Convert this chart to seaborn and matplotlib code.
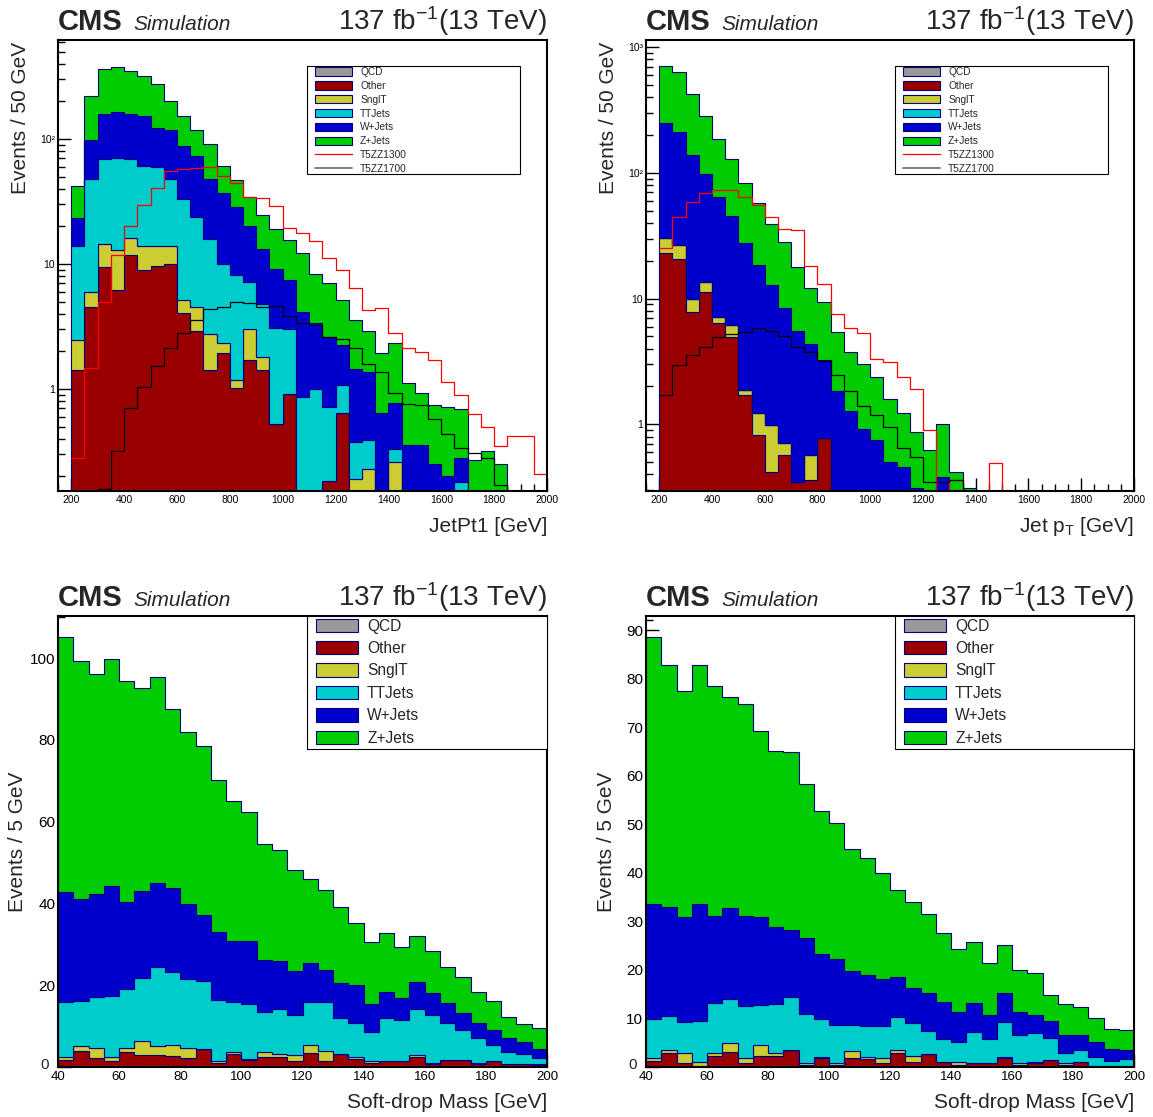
import numpy as np
import pandas as pd
import matplotlib
matplotlib.use("Agg")
import matplotlib.pyplot as plt
import seaborn as sns
from matplotlib.patches import Patch, Rectangle
from matplotlib.lines import Line2D
from matplotlib.ticker import MultipleLocator, LogLocator, NullFormatter, FuncFormatter

sns.set_theme(style="ticks")
plt.rcParams["font.family"] = ["Liberation Sans", "DejaVu Sans"]
plt.rcParams["mathtext.fontset"] = "custom"
plt.rcParams["mathtext.rm"] = "Liberation Sans"
plt.rcParams["mathtext.it"] = "Liberation Sans:italic"
plt.rcParams["mathtext.bf"] = "Liberation Sans:bold"

W, H = 1153, 1117

# ---------------- data ----------------
stack_order = ["Z+Jets", "W+Jets", "TTJets", "SnglT", "Other"]   # first = top of stack
legend_order = ["QCD", "Other", "SnglT", "TTJets", "W+Jets", "Z+Jets"]
fill_colors = {"QCD": "#999999", "Other": "#990000", "SnglT": "#cccc33",
               "TTJets": "#00cccc", "W+Jets": "#0000cc", "Z+Jets": "#00cc00"}
NAVY = "#000080"

pt_edges = np.arange(200, 2001, 50)
mass_edges = np.arange(40, 201, 5)

# leading jet pt
jetpt1_other = [1.42, 4.55, 9.5, 6.2, 11.8, 9.0, 9.6, 10.0, 4.08, 2.93, 1.42, 1.94, 1.02, 1.7,
                1.42, 0.53, 0.91, 0, 0, 0.185, 0.64, 0, 0, 0, 0, 0, 0, 0, 0, 0, 0, 0, 0, 0, 0, 0]
jetpt1_snglt = [1.05, 1.45, 4.9, 6.7, 4.4, 4.9, 4.3, 3.9, 1.07, 1.62, 1.33, 0.38, 0.16, 1.3,
                0.39, 0, 0, 0, 0, 0, 0, 0.19, 0.23, 0, 0.26, 0, 0, 0, 0, 0, 0, 0, 0, 0, 0, 0]
jetpt1_ttjets = [11.5, 41.5, 54.3, 57.6, 52.8, 47.1, 46.1, 33.6, 27.9, 19.4, 13.1, 7.7, 7.0, 4.2,
                 3.0, 2.53, 2.09, 0.87, 1.0, 0.535, 0.44, 0.19, 0.16, 0, 0.07, 0, 0, 0, 0, 0.18,
                 0, 0, 0, 0, 0, 0]
jetpt1_wjets = [9.5, 51.5, 91.3, 95.5, 91, 92, 62, 70.5, 55, 49.1, 32.2, 26.7, 20.5, 12.8, 8.45,
                6.14, 4.45, 3.28, 2.35, 1.9, 1.17, 1.08, 0.99, 0.64, 0.45, 0.36, 0.36, 0.25, 0.2,
                0.1, 0, 0, 0, 0, 0, 0]
jetpt1_zjets = [18.5, 122, 203, 213, 190, 166, 152, 84, 66, 45, 43, 24.3, 18.3, 14.5, 11.4, 9.8,
                8.05, 8.05, 5.05, 4.38, 2.9, 2.11, 1.52, 1.3, 1.55, 0.76, 0.57, 0.49, 0.52, 0.41,
                0.27, 0.32, 0.25, 0, 0, 0]
jetpt1_t5zz1300 = [0.28, 1.47, 5.0, 11.8, 20.3, 29.6, 40.8, 55.5, 57.5, 59, 60, 51, 44.8, 34.5,
                   34, 29, 19.5, 17.6, 15.4, 11.2, 9.0, 6.4, 4.29, 4.42, 2.82, 2.12, 1.97, 1.7,
                   1.13, 0.9, 0.63, 0.5, 0.35, 0.42, 0.42, 0.21]
jetpt1_t5zz1700 = [0, 0, 0.16, 0.32, 0.71, 1.04, 1.53, 2.12, 2.79, 3.6, 4.34, 4.55, 5.0, 4.85,
                   4.55, 4.6, 3.85, 3.35, 3.25, 2.59, 2.51, 2.12, 1.58, 1.36, 0.93, 0.76, 0.74,
                   0.58, 0.44, 0.335, 0.31, 0.28, 0.17, 0, 0, 0]

# jet pt
jetpt_other = [23.2, 20.5, 7.85, 11.3, 6.34, 4.97, 1.7, 0.82, 0.42, 0.57, 0.35, 0.36, 0.78] + [0] * 23
jetpt_snglt = [7.0, 6.2, 2.15, 2.2, 0.82, 1.18, 0.17, 0.42, 0.56, 0.14, 0, 0.21, 0] + [0] * 23
jetpt_ttjets = [0] * 36
jetpt_wjets = [218.8, 186.3, 129, 84.5, 57.5, 39.3, 25.6, 17.3, 11.8, 7.65, 5.2, 3.77, 2.46,
               1.83, 1.27, 0.92, 0.75, 0.5, 0.46, 0.31, 0, 0.38] + [0] * 14
jetpt_zjets = [454, 421, 285, 183, 120, 82.6, 55.2, 38.9, 26.2, 20.0, 12.4, 7.86, 6.09, 3.61,
               2.5, 2.08, 1.63, 1.1, 0.76, 0.56, 0.62, 0.62, 0.42, 0.31] + [0] * 12
jetpt_t5zz1300 = [25.4, 44.9, 59, 69.7, 73.2, 73.2, 64.7, 55.5, 44.9, 36, 35, 18.3, 13.1, 7.6,
                  5.8, 5.34, 3.28, 3.14, 2.38, 1.9, 0.9, 0, 0.36, 0, 0, 0.49] + [0] * 10
jetpt_t5zz1700 = [1.7, 2.99, 3.55, 4.13, 4.97, 5.21, 5.44, 5.8, 5.54, 5.03, 4.13, 3.77, 3.18,
                  2.46, 1.83, 1.4, 1.18, 0.95, 0.65, 0.55, 0.35, 0.35, 0.36] + [0] * 13

# soft-drop mass, left
mass_a_other = [1.7, 4.0, 2.2, 1.5, 3.7, 2.9, 2.9, 2.7, 2.1, 4.5, 0.9, 3.1, 1.6, 2.4, 2.4, 1.5,
                3.5, 1.4, 3.1, 1.9, 0.9, 1.4, 1.4, 2.4, 0.8, 1.6, 1.6, 0.8, 1.4, 0.7, 0.7, 0.5]
mass_a_snglt = [0.8, 1.1, 2.5, 0.9, 1.0, 3.5, 2.2, 2.7, 2.6, 0.0, 0.6, 0.6, 0.4, 1.3, 0.8, 1.4,
                2.0, 2.5, 0.2, 0.6, 0.6, 0.0, 0.1, 0.5, 0.1, 0.1, 0.1, 0.3, 0.1, 0.0, 0.0, 0.2]
mass_a_ttjets = [13.3, 11.0, 12.5, 15.0, 14.3, 15.3, 19.3, 17.8, 16.8, 16.5, 14.9, 12.3, 13.3,
                 9.7, 11.1, 9.8, 10.5, 11.9, 8.6, 8.2, 7.1, 10.5, 10.0, 11.4, 11.8, 9.0, 7.3,
                 5.9, 3.9, 3.0, 2.6, 1.4]
mass_a_wjets = [26.9, 24.9, 25.1, 26.9, 21.4, 21.3, 20.7, 20.5, 18.4, 16.2, 16.7, 14.9, 15.5,
                12.8, 11.7, 10.8, 9.4, 7.9, 8.6, 9.4, 6.8, 6.5, 5.4, 6.4, 5.5, 4.9, 4.3, 3.8,
                3.6, 3.3, 2.9, 2.2]
mass_a_zjets = [62.5, 58.3, 53.7, 55.5, 54.1, 49.8, 50.2, 43.9, 42.1, 41.3, 37.2, 34.2, 31.6,
                28.3, 27.1, 24.7, 20.5, 19.6, 18.7, 15.2, 15.2, 14.4, 12.4, 11.3, 10.2, 8.9,
                8.8, 7.5, 7.1, 5.3, 4.3, 5.2]

# soft-drop mass, right
mass_b_other = [1.3, 2.9, 0.9, 0.3, 2.3, 3.1, 0.75, 2.3, 2.2, 3.4, 0.4, 1.9, 0.5, 1.9, 1.6, 0.75,
                2.9, 1.1, 2.6, 1.1, 0.5, 0.75, 0.9, 1.9, 0.5, 0.9, 1.4, 0.5, 1.1, 0.3, 0.3, 0.3]
mass_b_snglt = [0.5, 0.5, 1.9, 0.8, 0.6, 1.8, 1.15, 2.2, 0.7, 0.2, 0.35, 0.1, 0.25, 1.3, 0.4,
                1.15, 0.7, 1.2, 0.0, 0.0, 0.6, 0.15, 0.0, 0.1, 0.25, 0.2, 0.0, 0.25, 0.0, 0.0,
                0.0, 0.0]
mass_b_ttjets = [8.1, 7.1, 6.5, 8.4, 10.3, 9.2, 10.7, 8.3, 10.0, 10.9, 10.15, 7.9, 7.85, 5.5,
                 6.5, 6.5, 6.6, 6.7, 4.8, 4.6, 4.0, 6.4, 4.8, 7.3, 5.85, 6.0, 4.6, 2.05, 2.3,
                 1.7, 1.0, 1.3]
mass_b_wjets = [23.7, 22.4, 21.5, 24.1, 18.0, 18.6, 18.6, 18.0, 16.0, 13.7, 15.6, 13.4, 13.6,
                11.1, 10.4, 9.7, 8.4, 7.2, 7.9, 7.6, 6.2, 5.8, 5.0, 5.9, 4.7, 3.6, 3.5, 3.8,
                3.2, 3.2, 2.5, 1.8]
mass_b_zjets = [55.0, 49.9, 46.7, 49.2, 47.3, 43.6, 43.5, 38.5, 36.2, 36.6, 31.7, 29.5, 28.0,
                25.1, 24.1, 21.8, 17.8, 17.7, 16.3, 14.2, 13.1, 12.7, 10.8, 9.9, 8.7, 8.7, 5.3,
                6.4, 5.8, 4.8, 4.0, 4.2]


def fx(px):
    return px / W


def fy(py):
    return 1 - py / H


def log_label(v, pos):
    return {1: "1", 10: "10", 100: "10²", 1000: "10³"}.get(int(round(v)), "")


def lin_label(v, pos):
    # the zero label is placed by hand, just left of the first x label
    return "" if abs(v) < 1e-9 else f"{v:g}"


panels = [
    dict(rect=(58, 40, 547, 491), edges=pt_edges, log=True, ylim=(0.153, 620),
         layers=[jetpt1_zjets, jetpt1_wjets, jetpt1_ttjets, jetpt1_snglt, jetpt1_other],
         signals=[jetpt1_t5zz1300, jetpt1_t5zz1700],
         xlabel="JetPt1 [GeV]", ylabel="Events / 50 GeV"),
    dict(rect=(646, 40, 1134, 491), edges=pt_edges, log=True, ylim=(0.295, 1140),
         layers=[jetpt_zjets, jetpt_wjets, jetpt_ttjets, jetpt_snglt, jetpt_other],
         signals=[jetpt_t5zz1300, jetpt_t5zz1700],
         xlabel=r"Jet p$_{\mathrm{T}}$ [GeV]", ylabel="Events / 50 GeV"),
    dict(rect=(58, 616, 547, 1067), edges=mass_edges, log=False, ylim=(0, 110.3),
         layers=[mass_a_zjets, mass_a_wjets, mass_a_ttjets, mass_a_snglt, mass_a_other],
         signals=None, xlabel="Soft-drop Mass [GeV]", ylabel="Events / 5 GeV",
         ymajor=20, yminor=5),
    dict(rect=(646, 616, 1134, 1067), edges=mass_edges, log=False, ylim=(0, 92.9),
         layers=[mass_b_zjets, mass_b_wjets, mass_b_ttjets, mass_b_snglt, mass_b_other],
         signals=None, xlabel="Soft-drop Mass [GeV]", ylabel="Events / 5 GeV",
         ymajor=10, yminor=2),
]

fig = plt.figure(figsize=(W / 100, H / 100), dpi=100)

for p in panels:
    left, top, right, bottom = p["rect"]
    ax = fig.add_axes([fx(left), fy(bottom), (right - left) / W, (bottom - top) / H])
    edges = p["edges"]
    bins = [float(e) for e in edges]
    centers = (edges[:-1] + edges[1:]) / 2

    df = pd.concat([pd.DataFrame({"x": centers, "w": vals, "proc": name})
                    for name, vals in zip(stack_order, p["layers"])], ignore_index=True)
    sns.histplot(data=df, x="x", weights="w", hue="proc", hue_order=stack_order,
                 palette=fill_colors, bins=bins, multiple="stack", element="step",
                 alpha=1, edgecolor=NAVY, linewidth=0.8, legend=False, ax=ax)

    if p["signals"] is not None:
        for vals, col in zip(p["signals"], ["red", "black"]):
            sig = pd.DataFrame({"x": centers, "w": vals})
            sns.histplot(data=sig, x="x", weights="w", bins=bins, element="step", fill=False,
                         color=col, linewidth=0.9, ax=ax)

    ax.set(xlabel="", ylabel="")
    ax.set_xlim(edges[0] - (50 if p["log"] else 0), edges[-1])
    if p["log"]:
        ax.set_yscale("log")
        ax.set_ylim(*p["ylim"])
        ax.yaxis.set_major_locator(LogLocator(base=10))
        ax.yaxis.set_major_formatter(FuncFormatter(log_label))
        ax.yaxis.set_minor_locator(LogLocator(base=10, subs=np.arange(2, 10)))
        ax.yaxis.set_minor_formatter(NullFormatter())
        ax.xaxis.set_major_locator(MultipleLocator(200))
        ax.xaxis.set_minor_locator(MultipleLocator(50))
        ax.tick_params(axis="both", which="major", labelsize=7.5)
        ax.tick_params(axis="x", pad=3)
    else:
        ax.set_ylim(*p["ylim"])
        ax.yaxis.set_major_locator(MultipleLocator(p["ymajor"]))
        ax.yaxis.set_minor_locator(MultipleLocator(p["yminor"]))
        ax.yaxis.set_major_formatter(FuncFormatter(lin_label))
        ax.xaxis.set_major_locator(MultipleLocator(20))
        ax.xaxis.set_minor_locator(MultipleLocator(5))
        ax.tick_params(axis="y", which="major", labelsize=11)
        ax.tick_params(axis="x", which="major", labelsize=9.5, pad=3)
        ax.annotate("0", xy=(0, 0), xycoords=("axes fraction", "data"), xytext=(-6.5, 1.5),
                    textcoords="offset points", ha="right", va="center", fontsize=11,
                    annotation_clip=False)

    ax.tick_params(axis="both", which="both", direction="in", top=False, right=False,
                   colors="black", width=1.0)
    ax.tick_params(axis="both", which="major", length=9.5)
    ax.tick_params(axis="both", which="minor", length=4.8)
    ax.tick_params(axis="y", pad=2)
    for s in ax.spines.values():
        s.set_linewidth(1.5)
        s.set_color("black")
        s.set_visible(True)

    # header texts
    fig.text(fx(left), fy(top - 10), "CMS", fontsize=21, fontweight="bold",
             ha="left", va="baseline")
    fig.text(fx(left + 75), fy(top - 10), "Simulation", fontsize=15, fontstyle="italic",
             ha="left", va="baseline")
    fig.text(fx(right), fy(top - 10), r"137 fb$^{\mathregular{-1}}$(13 TeV)", fontsize=20,
             ha="right", va="baseline")

    # axis titles
    fig.text(fx(right), fy(bottom + 41), p["xlabel"], fontsize=15, ha="right", va="baseline")
    if p["log"]:
        fig.text(fx(left - 37), fy(top + 2), p["ylabel"], fontsize=15, rotation=90,
                 ha="center", va="top")
    else:
        fig.text(fx(left - 40), fy((top + bottom) / 2), p["ylabel"], fontsize=15,
                 rotation=90, ha="center", va="center")

    # legend
    handles = [Patch(facecolor=fill_colors[n], edgecolor=NAVY, linewidth=0.8)
               for n in legend_order]
    labels = list(legend_order)
    if p["log"]:
        handles += [Line2D([], [], color="red", lw=0.9), Line2D([], [], color="gray", lw=1.4)]
        labels += ["T5ZZ1300", "T5ZZ1700"]
        box = (left + 249, top + 26, left + 462, top + 134)
        fs, hl, hh, pad, ls, first = 7.3, 3.65, 0.9, 0.8, 0.38, top + 27
        hx = left + 257
    else:
        box = (left + 249, top, right, top + 133)
        fs, hl, hh, pad, ls, first = 11.2, 2.7, 0.96, 0.58, 0.47, top + 2.5
        hx = left + 258
    fig.add_artist(Rectangle((fx(box[0]), fy(box[3])), (box[2] - box[0]) / W,
                             (box[3] - box[1]) / H, transform=fig.transFigure,
                             facecolor="white", edgecolor="black", linewidth=0.8, zorder=3))
    fig.legend(handles, labels, loc="upper left", bbox_to_anchor=(fx(hx), fy(first)),
               bbox_transform=fig.transFigure, frameon=False, borderpad=0,
               borderaxespad=0, fontsize=fs, handlelength=hl, handleheight=hh,
               handletextpad=pad, labelspacing=ls)

fig.savefig("out.png", dpi=100)
